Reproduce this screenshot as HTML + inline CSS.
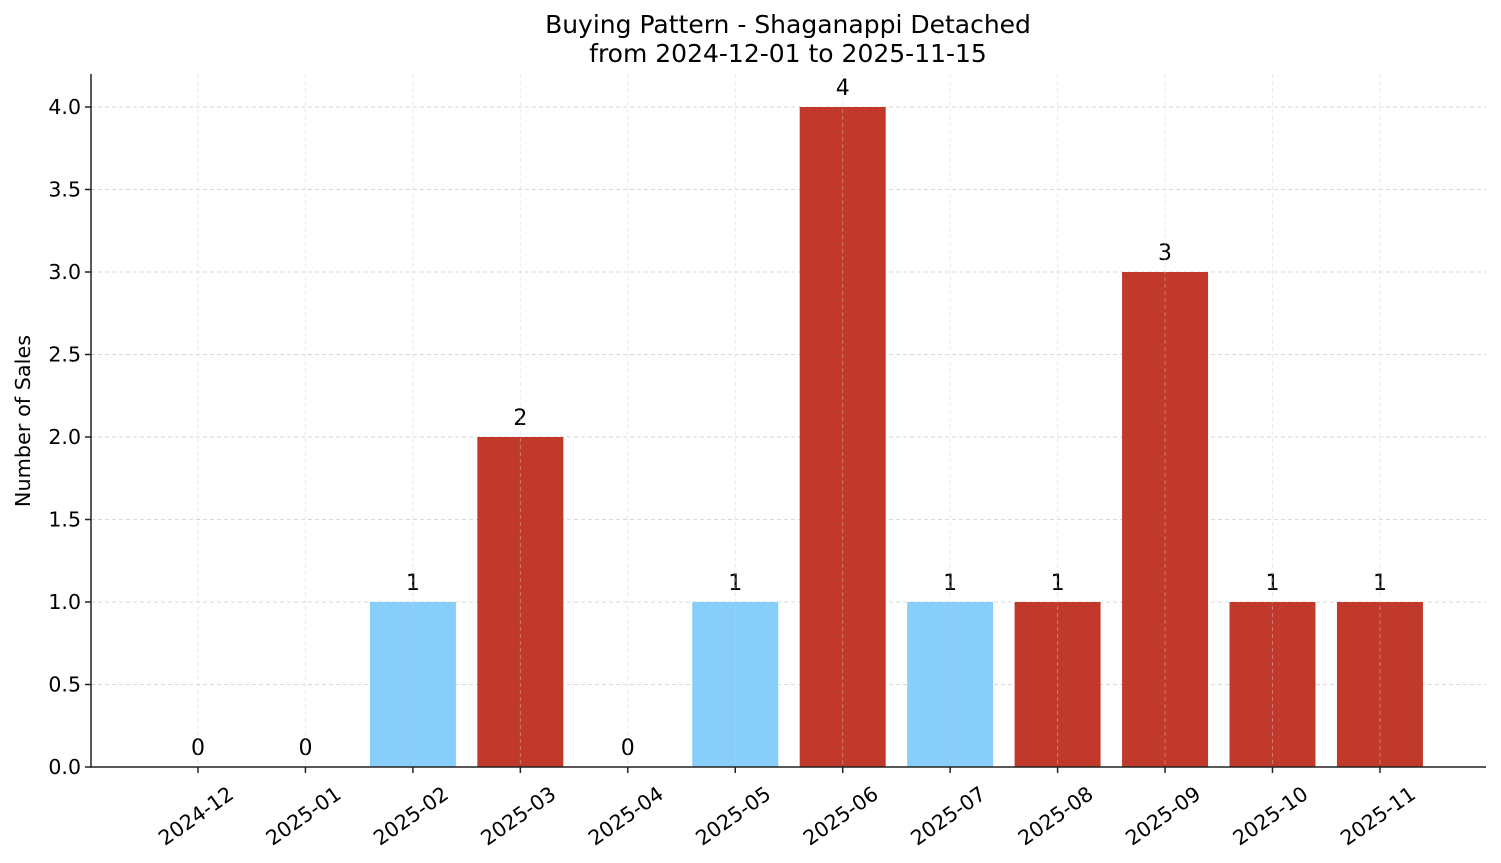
<!DOCTYPE html>
<html><head><meta charset="utf-8"><style>
html,body{margin:0;padding:0;background:#fff;}
svg{display:block;font-family:"DejaVu Sans","Liberation Sans",sans-serif;}
</style></head><body>
<svg id="chart" width="1501" height="863">
<text x="788" y="33" text-anchor="middle" font-size="25" fill="#000">Buying Pattern - Shaganappi Detached</text>
<text x="788" y="62" text-anchor="middle" font-size="25" fill="#000">from 2024-12-01 to 2025-11-15</text>
<text transform="translate(30,421) rotate(-90)" text-anchor="middle" font-size="20.8" fill="#000">Number of Sales</text>
<g id="grid"></g><g id="bars"></g><g id="vgrid"></g><g id="axes"></g>
</svg>
<script>
const categories=["2024-12","2025-01","2025-02","2025-03","2025-04","2025-05","2025-06","2025-07","2025-08","2025-09","2025-10","2025-11"];
const sales=[0,0,1,2,0,1,4,1,1,3,1,1];
const barColorGroup=["red","red","blue","red","red","blue","red","blue","red","red","red","red"];
const yTicks=[0,0.5,1,1.5,2,2.5,3,3.5,4];
const yTickLabels=["0.0","0.5","1.0","1.5","2.0","2.5","3.0","3.5","4.0"];
const NS="http://www.w3.org/2000/svg";
const x0=91,x1=1486,yBase=767,yTop=74;
function yScale(v){return yBase-v*165;}
function xScale(i){return 198+i*107.45;}
function mk(tag,attrs,parent){const e=document.createElementNS(NS,tag);for(const k in attrs)e.setAttribute(k,attrs[k]);parent.appendChild(e);return e;}
const grid=document.getElementById('grid'),bars=document.getElementById('bars'),vgrid=document.getElementById('vgrid'),axes=document.getElementById('axes');
yTicks.forEach((t,i)=>{
  const y=yScale(t);
  const g=mk('line',{x1:x0,x2:x1,y1:y,y2:y,stroke:'#d8d8d8','stroke-width':1,'stroke-dasharray':'4,3'},grid);
  
  
  const tk=mk('line',{x1:x0-6,x2:x0,y1:y,y2:y,stroke:'#222','stroke-width':1.5},axes);
  
  
  const tl=mk('text',{x:x0-10,y:y+7,'text-anchor':'end','font-size':20.5,fill:'#000'},axes);
  tl.textContent=yTickLabels[i];
  
  
});
categories.forEach((c,i)=>{
  const cx=xScale(i),v=sales[i];
  const b=mk('rect',{x:cx-43,y:yScale(v),width:86,height:yBase-yScale(v),fill:barColorGroup[i]==='blue'?'#87CEFA':'#C0392B'},bars);
  
  
  const vg=mk('line',{x1:cx,x2:cx,y1:yTop,y2:yBase,stroke:'#d0d0d0','stroke-width':1,'stroke-dasharray':'4,3','stroke-opacity':0.45},vgrid);
  
  
  const vl=mk('text',{x:cx,y:yScale(v)-12,'text-anchor':'middle','font-size':22,fill:'#000'},bars);
  vl.textContent=String(v);
  
  
  const tk=mk('line',{x1:cx,x2:cx,y1:yBase,y2:yBase+6,stroke:'#222','stroke-width':1.5},axes);
  
  
  const tl=mk('text',{x:0,y:7,'text-anchor':'middle','font-size':20.5,fill:'#000',transform:`translate(${cx-2},816) rotate(-35)`},axes);
  tl.textContent=c;
  
  
});
const ls=mk('line',{x1:x0,x2:x0,y1:yTop,y2:yBase+0.75,stroke:'#222','stroke-width':1.5},axes);


const bs=mk('line',{x1:x0-0.75,x2:x1,y1:yBase,y2:yBase,stroke:'#222','stroke-width':1.5},axes);


</script>
</body></html>
